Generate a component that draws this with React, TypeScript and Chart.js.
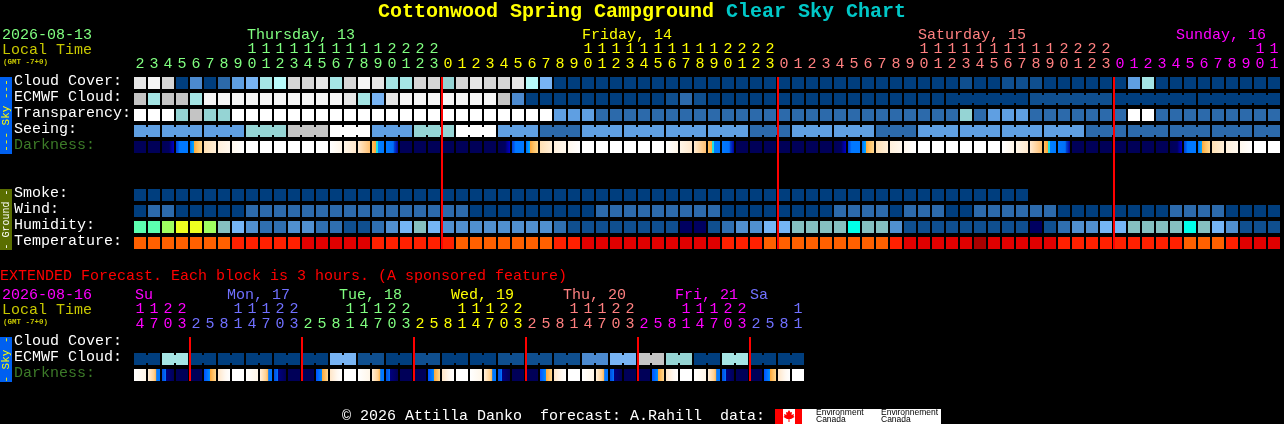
import React, { useEffect, useRef } from "react";
import { Chart, registerables } from "chart.js";

Chart.register(...registerables);

const MONO = "'Liberation Mono', monospace";

// ---- categories and tick labels ----
const ROWS_MAIN = ["Cloud Cover:", "ECMWF Cloud:", "Transparency:", "Seeing:", "Darkness:", "", "", "Smoke:", "Wind:", "Humidity:", "Temperature:"];
const ROWS_EXT = ["Cloud Cover:", "ECMWF Cloud:", "Darkness:"];

const HOURS_MAIN = [2,3,4,5,6,7,8,9,10,11,12,13,14,15,16,17,18,19,20,21,22,23,
  0,1,2,3,4,5,6,7,8,9,10,11,12,13,14,15,16,17,18,19,20,21,22,23,
  0,1,2,3,4,5,6,7,8,9,10,11,12,13,14,15,16,17,18,19,20,21,22,23,
  0,1,2,3,4,5,6,7,8,9,10,11];
const HOURS_EXT = [14,17,20,23, 2,5,8,11,14,17,20,23, 2,5,8,11,14,17,20,23, 2,5,8,11,14,17,20,23, 2,5,8,11,14,17,20,23, 2,5,8,11,14,17,20,23, 2,5,8,11];

// first column of each day, with its text colour
const DAY_STARTS_MAIN = [0, 22, 46, 70];
const DAY_COLORS_MAIN = ["#80ff80", "#ffff00", "#ff8080", "#ff00ff"];
const DAY_STARTS_EXT = [0, 4, 12, 20, 28, 36, 44];
const DAY_COLORS_EXT = ["#ff00ff", "#7070ff", "#80ff80", "#ffff00", "#ff8080", "#ff00ff", "#7070ff"];

// ---- series values (levels into the palettes below) ----
const cloudCover = [11,12,10,0,3,0,2,4,5,7,8,10,10,11,7,10,12,11,7,7,10,10,6,10,11,10,10,11,8,5,
  0,0,0,0,0,0,0,0,0,0,0,0,0,0,0,0,0,0,0,0,0,0,0,0,0,0,0,0,0,
  1,0,0,1,1,1,0,0,0,0,0,0,4,7,0,0,0,0,0,0,0,0,0];
const ecmwfCloud = [9,7,9,9,7,12,12,12,12,12,12,12,12,12,12,11,7,5,11,12,12,12,12,12,12,12,9,3,
  0,0,0,0,0,0,0,0,0,0,1,2,1,0,0,0,0,0,0,0,0,0,0,0,0,0,0,0,0,0,
  0,0,0,0,0,0,1,1,1,1,1,1,0,0,0,0,0,0,0,0,0,0,0,0];
const transparency = [13,13,13,6,9,6,6,13,13,13,13,13,13,13,13,13,13,13,13,13,13,13,13,13,13,13,13,13,13,13,
  4,4,4,2,2,2,2,2,2,2,2,2,2,2,2,2,2,2,2,2,2,2,2,2,2,2,2,2,2,
  6,2,4,4,4,2,2,2,2,2,2,2,13,13,2,2,2,2,2,2,2,2,2];
const seeing = [4,4,4,4,4,4,4,4,6,6,6,9,9,9,13,13,13,4,4,4,6,6,6,13,13,13,4,4,4,2,2,2,4,4,4,4,4,4,4,4,4,4,4,4,
  2,2,2,4,4,4,4,4,4,2,2,2,4,4,4,4,4,4,4,4,4,4,4,4,2,2,2,2,2,2,2,2,2,2,2,2,2,2];
const darkness = [0,0,1,2,3,4,5,6,7,7,7,7,7,7,8,9,10,11,12,0,0,0,0,0,0,0,
  1,2,3,4,5,6,7,7,7,7,7,7,8,9,10,11,12,0,0,0,0,0,0,0,
  1,2,3,4,5,6,7,7,7,7,7,7,8,9,10,11,12,0,0,0,0,0,0,0,
  1,2,3,4,5,6,7,7];
const smoke = [0,0,0,0,0,0,0,0,0,0,0,0,0,0,0,0,0,0,0,0,0,0,0,0,0,0,0,0,0,0,0,0,
  0,0,0,0,0,0,0,0,0,0,0,0,0,0,0,0,0,0,0,0,0,0,0,0,0,0,0,0,0,0,0,0];
const wind = [0,2,2,0,0,0,0,0,2,2,2,2,2,2,2,2,2,2,2,2,2,2,2,2,0,0,0,0,0,0,0,0,0,2,2,2,2,2,2,2,2,2,
  0,0,0,0,0,0,0,0,2,2,2,2,0,2,2,2,0,0,2,2,2,2,2,2,0,0,0,0,0,0,0,0,2,2,2,2,0,0,0,0];
const humidity = [7,7,8,9,9,8,5,4,3,2,2,3,3,2,2,1,1,2,3,4,5,4,3,3,3,3,3,3,3,3,2,1,1,1,1,1,1,1,1,0,0,1,2,3,3,4,4,
  5,5,5,5,6,5,5,3,1,1,1,1,1,1,1,1,1,0,1,2,3,3,4,4,5,5,5,5,6,5,4,3,1,1,1];
const temperature = [0,0,0,0,0,0,0,1,1,1,1,1,2,2,2,2,2,1,1,1,1,1,1,0,0,0,0,0,0,0,1,1,2,2,2,2,2,2,2,2,2,2,1,1,1,
  0,0,0,0,0,0,0,0,0,1,2,2,2,2,2,3,2,2,2,2,2,1,1,1,1,1,1,1,1,1,0,0,0,1,2,2,2];

const extCloudCover: number[] = [];
const extEcmwf = [0,0,7,7,0,0,0,0,0,0,0,0,0,0,5,5,1,1,0,0,1,1,0,0,0,0,1,1,1,1,1,1,3,3,5,5,9,9,6,6,0,0,7,7,0,0,0,0];
const extDarkness = [8,13,14,0,0,15,16,7,8,13,14,0,0,15,16,7,8,13,14,0,0,15,16,7,8,13,14,0,0,15,16,7,8,13,14,0,0,15,16,7,8,13,14,0,0,15,16,7];

// columns joined into one block: [first, last]
const ecmwfBlocks = [[58,63],[64,69],[70,75],[76,81]];
const seeingBlocks = [[0,1],[2,4],[5,7],[8,10],[11,13],[14,16],[17,19],[20,22],[23,25],[26,28],[29,31],[32,34],[35,37],[38,40],[41,43],[44,46],[47,49],[50,52],[53,55],[56,58],[59,61],[62,64],[65,67],[68,70],[71,73],[74,76],[77,79],[80,81]];
const extEcmwfBlocks = [[0,1],[2,3],[4,5],[6,7],[8,9],[10,11],[12,13],[14,15],[16,17],[18,19],[20,21],[22,23],[24,25],[26,27],[28,29],[30,31],[32,33],[34,35],[36,37],[38,39],[40,41],[42,43],[44,45],[46,47]];

// midnight: just right of the gap before the day's first column
const midnightMain = [21.5 + 1 / 14, 45.5 + 1 / 14, 69.5 + 1 / 14];
const midnightExt = [3.5 + 1 / 14, 11.5 + 1 / 14, 19.5 + 1 / 14, 27.5 + 1 / 14, 35.5 + 1 / 14, 43.5 + 1 / 14];

// ---- palettes ----
const SKY = ["#003E7E","#0F4F8F","#2C6AAB","#4C8ACF","#5F9FE2","#78B4F4","#95D4D4","#A5E5E5","#B8FBFB","#C4C4C4","#D6D6D6","#E6E6E6","#F6F6F6","#FFFFFF"];
const HUM = ["#000060","#0F4F8F","#2F6FB0","#5090D0","#75B5F5","#85C0C0","#00FFE8","#5CFFB0","#A0FF60","#EEFF20"];
const TEMP = ["#FF6000","#FF2000","#E00000","#A80000"];
const DARK_STOPS: [number, string][][] = [
  [[0,"#000058"],[1,"#000058"]],
  [[0,"#000058"],[0.6,"#000060"],[0.75,"#000090"],[1,"#0000C8"]],
  [[0,"#0040D8"],[0.2,"#0060F0"],[0.3,"#0078FF"],[1,"#0078FF"]],
  [[0,"#0068F8"],[0.16,"#0090FF"],[0.33,"#00A8FF"],[0.34,"#FFA838"],[0.6,"#FFC060"],[1,"#FFD890"]],
  [[0,"#FFE0B4"],[1,"#FFEFD8"]],
  [[0,"#FFF0DC"],[1,"#FFF8EE"]],
  [[0,"#FFF8EE"],[1,"#FFFFFF"]],
  [[0,"#FFFFFF"],[1,"#FFFFFF"]],
  [[0,"#FFFFFF"],[1,"#FFF6E8"]],
  [[0,"#FFF6E8"],[1,"#FFE8CC"]],
  [[0,"#FFEAD0"],[1,"#FFC070"]],
  [[0,"#FFC060"],[0.3,"#FFA838"],[0.32,"#20E0E0"],[0.5,"#20E0E0"],[0.51,"#0080FF"],[1,"#0078FF"]],
  [[0,"#0078FF"],[0.6,"#0070F8"],[0.7,"#0040D0"],[1,"#0000A0"]],
  [[0,"#FFF0DC"],[0.5,"#FFD090"],[0.7,"#FFB040"],[0.71,"#0078FF"],[1,"#0078FF"]],
  [[0,"#0050E0"],[0.2,"#0060F0"],[0.33,"#0078FF"],[0.34,"#000080"],[1,"#000058"]],
  [[0,"#0050FF"],[0.33,"#0078FF"],[0.5,"#0090FF"],[0.51,"#FFA838"],[1,"#FFD890"]],
  [[0,"#FFE6C8"],[0.6,"#FFF8F0"],[1,"#FFFFFF"]],
];

// ---- texts ----
type Txt = { t: string; x: number; y: number; c: string; f: string };
const F15 = `15px ${MONO}`;
const TEXTS_MAIN: Txt[] = [
  { t: "Cottonwood Spring Campground", x: 378, y: 12, c: "#ffff00", f: `bold 20px ${MONO}` },
  { t: "Clear Sky Chart", x: 726, y: 12, c: "#00c8c8", f: `bold 20px ${MONO}` },
  { t: "2026-08-13", x: 2, y: 35, c: "#80ff80", f: F15 },
  { t: "Local Time", x: 2, y: 50, c: "#c8c800", f: F15 },
  { t: "(GMT -7+0)", x: 3, y: 62, c: "#c8c800", f: `bold 7.5px ${MONO}` },
  { t: "Thursday, 13", x: 247, y: 35, c: "#80ff80", f: F15 },
  { t: "Friday, 14", x: 582, y: 35, c: "#ffff00", f: F15 },
  { t: "Saturday, 15", x: 918, y: 35, c: "#ff8080", f: F15 },
  { t: "Sunday, 16", x: 1176, y: 35, c: "#ff00ff", f: F15 },
];
const TEXTS_EXT: Txt[] = [
  { t: "EXTENDED Forecast. Each block is 3 hours. (A sponsored feature)", x: 0, y: 16, c: "#ff0000", f: F15 },
  { t: "2026-08-16", x: 2, y: 35, c: "#ff00ff", f: F15 },
  { t: "Local Time", x: 2, y: 50, c: "#c8c800", f: F15 },
  { t: "(GMT -7+0)", x: 3, y: 62, c: "#c8c800", f: `bold 7.5px ${MONO}` },
  { t: "Su", x: 135, y: 35, c: "#ff00ff", f: F15 },
  { t: "Mon, 17", x: 227, y: 35, c: "#7070ff", f: F15 },
  { t: "Tue, 18", x: 339, y: 35, c: "#80ff80", f: F15 },
  { t: "Wed, 19", x: 451, y: 35, c: "#ffff00", f: F15 },
  { t: "Thu, 20", x: 563, y: 35, c: "#ff8080", f: F15 },
  { t: "Fri, 21", x: 675, y: 35, c: "#ff00ff", f: F15 },
  { t: "Sa", x: 750, y: 35, c: "#7070ff", f: F15 },
  { t: "© 2026 Attilla Danko  forecast: A.Rahill  data:", x: 342, y: 156, c: "#ffffff", f: F15 },
];

function drawTexts(ctx: CanvasRenderingContext2D, list: Txt[]) {
  ctx.save();
  ctx.textBaseline = "middle";
  ctx.textAlign = "left";
  for (const it of list) {
    ctx.font = it.f;
    ctx.fillStyle = it.c;
    ctx.fillText(it.t, it.x, it.y);
  }
  ctx.restore();
}

function sideBand(ctx: CanvasRenderingContext2D, top: number, bottom: number, bg: string, color: string, text: string, size: number) {
  ctx.save();
  ctx.fillStyle = bg;
  ctx.fillRect(0, top, 12, bottom - top);
  ctx.translate(6, (top + bottom) / 2);
  ctx.rotate(-Math.PI / 2);
  ctx.fillStyle = color;
  ctx.font = `${size}px ${MONO}`;
  ctx.textAlign = "center";
  ctx.textBaseline = "middle";
  ctx.fillText(text, 0, 0);
  ctx.restore();
}

function logo(ctx: CanvasRenderingContext2D, o: number) {
  // Government wordmark in the footer
  ctx.save();
  ctx.fillStyle = "#ffffff";
  ctx.fillRect(775, 409 - o, 166, 15);
  ctx.fillStyle = "#ff0000";
  ctx.fillRect(775, 409 - o, 8, 15);
  ctx.fillRect(795, 409 - o, 7, 15);
  const cx = 789, cy = 416 - o;
  const leaf = [[0,-6],[1.5,-3.5],[3,-4],[2.5,-1],[5,-2],[4.5,0],[5.5,1],[2,3],[0.5,3],[0.5,6],[-0.5,6],[-0.5,3],[-2,3],[-5.5,1],[-4.5,0],[-5,-2],[-2.5,-1],[-3,-4],[-1.5,-3.5]];
  ctx.beginPath();
  leaf.forEach(([a, b], i) => (i ? ctx.lineTo(cx + a, cy + b) : ctx.moveTo(cx + a, cy + b)));
  ctx.closePath();
  ctx.fill();
  ctx.fillStyle = "#000000";
  ctx.font = "8.5px 'Liberation Sans', sans-serif";
  ctx.textBaseline = "middle";
  ctx.fillText("Environment", 816, 412.5 - o);
  ctx.fillText("Canada", 816, 420 - o);
  ctx.fillText("Environnement", 881, 412.5 - o);
  ctx.fillText("Canada", 881, 420 - o);
  ctx.restore();
}

// ---- dataset helpers ----
function cellRow(row: number, values: number[], palette: string[]) {
  return {
    label: `row${row}`,
    grouped: false, barThickness: 12, inflateAmount: 0, borderWidth: 0, order: 2,
    data: values.map((v, c) => ({ x: c, y: [row - 0.375, row + 0.375] })),
    backgroundColor: values.map((v) => palette[v]),
  };
}
function bridgeRow(row: number, values: number[], palette: string[], blocks: number[][]) {
  const pts: { x: number; y: number[] }[] = [];
  const cols: string[] = [];
  for (const [a, b] of blocks) {
    for (let c = a; c < b; c++) {
      pts.push({ x: c + 0.5, y: [row - 0.25, row + 0.25] });
      cols.push(palette[values[c]]);
    }
  }
  return { label: `joins${row}`, grouped: false, barThickness: 2, inflateAmount: 0, borderWidth: 0, order: 2, data: pts, backgroundColor: cols };
}
function darknessRow(row: number, values: number[]) {
  return {
    label: `dark${row}`,
    grouped: false, barThickness: 12, inflateAmount: 0, borderWidth: 0, order: 2,
    data: values.map((v, c) => ({ x: c, y: [row - 0.375, row + 0.375] })),
    backgroundColor: (ctx: any) => {
      const scale = ctx.chart.scales.x;
      if (ctx.dataIndex === undefined || !scale) return "#000058";
      const px = scale.getPixelForValue(ctx.dataIndex);
      if (!Number.isFinite(px)) return "#000058";
      const g = ctx.chart.ctx.createLinearGradient(px - 6, 0, px + 6, 0);
      for (const [o, col] of DARK_STOPS[values[ctx.dataIndex]]) g.addColorStop(o, col);
      return g;
    },
  };
}
function midnightLines(xs: number[], lastRow: number) {
  return {
    label: "midnight", grouped: false, barThickness: 2, inflateAmount: 0, borderWidth: 0, order: 1,
    data: xs.map((x) => ({ x, y: [-0.375, lastRow + 0.375] })),
    backgroundColor: "#ff0000",
  };
}

function makeOptions(opts: {
  rows: string[]; hours: number[]; dayStarts: number[]; dayColors: string[];
  right: number; bottom: number;
}) {
  const { rows, hours, dayStarts, dayColors, right, bottom } = opts;
  const rowIdx = rows.map((_, i) => i);
  const cols = hours.map((_, i) => i);
  const colorOf = (i: number) => {
    let k = 0;
    dayStarts.forEach((s, j) => { if (i >= s) k = j; });
    return dayColors[k];
  };
  return {
    responsive: false, animation: false as const, devicePixelRatio: 1, events: [] as any[],
    layout: { autoPadding: false, padding: { left: 14, top: 0, right, bottom } },
    plugins: { legend: { display: false }, tooltip: { enabled: false }, title: { display: false } },
    scales: {
      x: {
        type: "linear" as const, position: "top" as const, offset: false,
        min: -0.5, max: hours.length - 0.5,
        grid: { display: false, drawTicks: false, offset: false }, border: { display: false },
        afterFit: (s: any) => { s.height = 75; },
        afterBuildTicks: (s: any) => { s.ticks = cols.map((value) => ({ value })); },
        ticks: {
          autoSkip: false, maxRotation: 0, minRotation: 0, padding: 3.5, crossAlign: "near" as const,
          font: { family: MONO, size: 15, lineHeight: 1 },
          color: (c: any) => colorOf(c.index),
          callback: (v: any) => {
            const h = hours[v];
            return h >= 10 ? [String(Math.floor(h / 10)), String(h % 10)] : ["", String(h)];
          },
        },
      },
      y: { type: "linear" as const, display: false, reverse: true, min: -0.5, max: rows.length - 0.5, offset: false },
      // the row names sit 2px above the middle of their cells
      rowNames: {
        type: "linear" as const, position: "left" as const, reverse: true, offset: false,
        min: -0.375, max: rows.length - 0.375,
        grid: { display: false, drawTicks: false }, border: { display: false },
        afterFit: (s: any) => { s.width = 119; },
        afterBuildTicks: (s: any) => { s.ticks = rowIdx.map((value) => ({ value })); },
        ticks: {
          autoSkip: false, padding: 0, crossAlign: "far" as const,
          font: { family: MONO, size: 15, lineHeight: 1 },
          color: (c: any) => (rows[c.index] === "Darkness:" ? "#3C7A28" : "#ffffff"),
          callback: (v: any) => rows[v],
        },
      },
    },
  };
}

export default function App() {
  const mainRef = useRef<HTMLCanvasElement>(null);
  const extRef = useRef<HTMLCanvasElement>(null);

  useEffect(() => {
    document.body.style.margin = "0";
    document.body.style.background = "#000";

    const main = new Chart(mainRef.current as HTMLCanvasElement, {
      type: "bar",
      data: {
        datasets: [
          midnightLines(midnightMain, 10),
          cellRow(0, cloudCover, SKY),
          cellRow(1, ecmwfCloud, SKY),
          bridgeRow(1, ecmwfCloud, SKY, ecmwfBlocks),
          cellRow(2, transparency, SKY),
          cellRow(3, seeing, SKY),
          bridgeRow(3, seeing, SKY, seeingBlocks),
          darknessRow(4, darkness),
          cellRow(7, smoke, SKY),
          cellRow(8, wind, SKY),
          cellRow(9, humidity, HUM),
          cellRow(10, temperature, TEMP),
        ] as any,
      },
      options: makeOptions({ rows: ROWS_MAIN, hours: HOURS_MAIN, dayStarts: DAY_STARTS_MAIN, dayColors: DAY_COLORS_MAIN, right: 3, bottom: 9 }) as any,
      plugins: [{
        id: "mainTexts",
        afterDraw(chart: any) {
          const ctx = chart.ctx;
          drawTexts(ctx, TEXTS_MAIN);
          sideBand(ctx, 77, 154, "#0060F0", "#ffff00", "--- Sky ---", 11);
          sideBand(ctx, 189, 250, "#5A6E00", "#ffffff", "- Ground -", 10);
        },
      }],
    });

    const ext = new Chart(extRef.current as HTMLCanvasElement, {
      type: "bar",
      data: {
        datasets: [
          midnightLines(midnightExt, 2),
          cellRow(0, extCloudCover, SKY),
          cellRow(1, extEcmwf, SKY),
          bridgeRow(1, extEcmwf, SKY, extEcmwfBlocks),
          darknessRow(2, extDarkness),
        ] as any,
      },
      options: makeOptions({ rows: ROWS_EXT, hours: HOURS_EXT, dayStarts: DAY_STARTS_EXT, dayColors: DAY_COLORS_EXT, right: 479, bottom: 41 }) as any,
      plugins: [{
        id: "extTexts",
        afterDraw(chart: any) {
          const ctx = chart.ctx;
          drawTexts(ctx, TEXTS_EXT);
          sideBand(ctx, 77, 122, "#0060F0", "#ffff00", "- Sky -", 11);
          logo(ctx, 260);
        },
      }],
    });

    return () => { main.destroy(); ext.destroy(); };
  }, []);

  return (
    <div style={{ position: "fixed", left: 0, top: 0, width: 1284, height: 424, background: "#000", overflow: "hidden" }}>
      <canvas ref={mainRef} width={1284} height={260} style={{ position: "absolute", left: 0, top: 0, display: "block" }} />
      <canvas ref={extRef} width={1284} height={164} style={{ position: "absolute", left: 0, top: 260, display: "block" }} />
    </div>
  );
}
